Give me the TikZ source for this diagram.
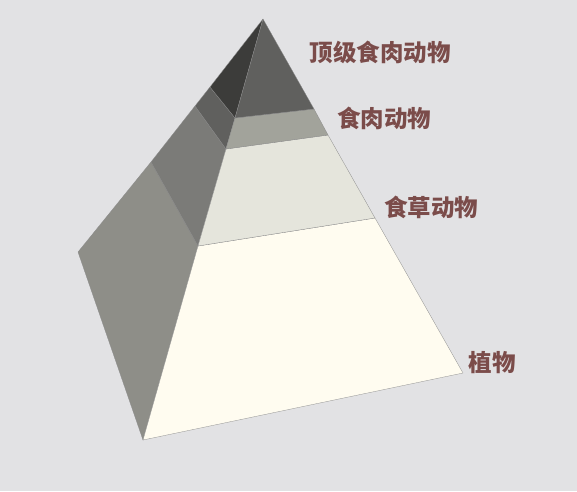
\documentclass[tikz,border=0pt]{standalone}
\usepackage{fontspec}
\newfontfamily\cjk{Noto Sans CJK SC}
\usepackage{tikz}
\definecolor{paper}{HTML}{E2E2E4}
\definecolor{labelred}{HTML}{7B4C4A}
\tikzset{
	face/.style={draw=black!45, line width=0.3pt, line join=round},
	levellabel/.style={text=labelred, font=\cjk\bfseries\fontsize{23.5}{24}\selectfont, inner sep=0pt}
}

\begin{document}
\begin{tikzpicture}[x=1pt, y=-1pt]
		%%%%% START %%%%%
		
		\fill[paper] (0, 0) rectangle (577, 491);
		\useasboundingbox (0, 0) rectangle (577, 491);
		
		% left faces
		\draw[face, fill={rgb,255:red,142;green,142;blue,136}] (78, 252) -- (151, 162) -- (198, 246) -- (143, 440) -- cycle;
		\draw[face, fill={rgb,255:red,123;green,123;blue,120}] (151, 162) -- (195, 106) -- (226, 149) -- (198, 246) -- cycle;
		\draw[face, fill={rgb,255:red,96;green,96;blue,94}] (195, 106) -- (210, 87) -- (235, 118) -- (226, 149) -- cycle;
		\draw[face, fill={rgb,255:red,60;green,60;blue,58}] (210, 87) -- (263, 19) -- (235, 118) -- cycle;
		
		% front faces
		\draw[face, fill={rgb,255:red,255;green,252;blue,240}] (198, 246) -- (375, 218) -- (463, 373) -- (143, 440) -- cycle;
		\draw[face, fill={rgb,255:red,229;green,229;blue,220}] (226, 149) -- (328, 135) -- (375, 218) -- (198, 246) -- cycle;
		\draw[face, fill={rgb,255:red,162;green,163;blue,155}] (235, 118) -- (314, 109) -- (328, 135) -- (226, 149) -- cycle;
		\draw[face, fill={rgb,255:red,96;green,96;blue,94}] (263, 19) -- (314, 109) -- (235, 118) -- cycle;
		
		% labels
		\node[levellabel] (top) at (380, 52) {顶级食肉动物};
		\node[levellabel] (carn) at (384, 118) {食肉动物};
		\node[levellabel] (herb) at (431, 207) {食草动物};
		\node[levellabel] (plant) at (492, 363) {植物};
		
		%%%%% END %%%%%
	\end{tikzpicture}
\end{document}
